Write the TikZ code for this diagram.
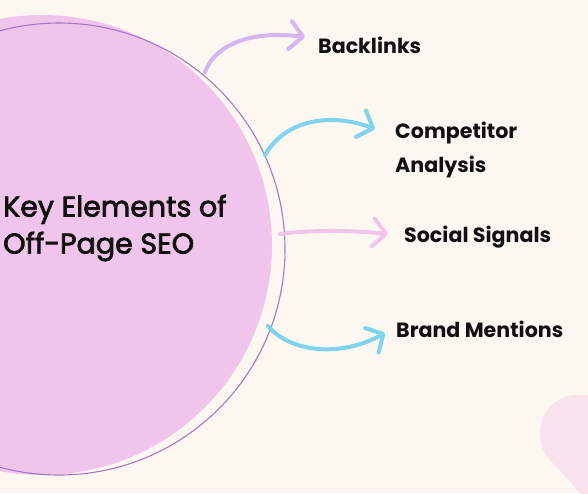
\documentclass[tikz,border=0pt]{standalone}
\usepackage{fontspec}
\setmainfont{Poppins}
\newfontfamily\titlefont{Poppins}[FakeBold=2.6]
\usetikzlibrary{arrows.meta}

\definecolor{paper}{HTML}{FDF7F1}
\definecolor{discpink}{HTML}{F0C5EB}
\definecolor{ringpurple}{HTML}{A677C6}
\definecolor{lavender}{HTML}{D5B5F2}
\definecolor{skyblue}{HTML}{7ED4EE}
\definecolor{softpink}{HTML}{F1C4E9}
\definecolor{blobpink}{HTML}{F8E2EC}
\definecolor{inkblack}{HTML}{111111}

\begin{document}
\begin{tikzpicture}[x=1pt,y=-1pt]

    % Define styles
    \tikzset{
        brush/.style={line width=4pt, line cap=round,
            -{Straight Barb[length=13pt,width=28pt,round]}},
        item label/.style={font=\bfseries\fontsize{20.6}{34}\selectfont,
            text=inkblack, inner sep=0pt, align=left},
        title label/.style={font=\titlefont\fontsize{28.5}{37}\selectfont,
            text=inkblack, inner sep=0pt, align=left}
    }

    % Page and clipping
    \useasboundingbox (0,0) rectangle (588,493);
    \fill[paper] (0,0) rectangle (588,493);
    \clip (0,0) rectangle (588,493);

    % Corner blob (bottom right)
    \fill[blobpink] (592,395) -- (578,395)
        .. controls (556,395) and (540,412) .. (540,433)
        .. controls (540,445) and (544,454) .. (551,461)
        -- (584,497) -- (592,497) -- cycle;

    % Big disc and its outline ring
    \fill[discpink] (42,245) circle[radius=230pt];
    \draw[ringpurple, line width=1.1pt] (59,249) circle[radius=226pt];

    % Title inside the disc
    \node[title label, anchor=west] (title) at (3,228)
        {Key Elements of\\Off-Page SEO};

    % Define coordinates for the arrow ends
    \coordinate (bl-start) at (205,72);
    \coordinate (bl-end)   at (305,37);
    \coordinate (ca-start) at (265,155);
    \coordinate (ca-end)   at (375,129);
    \coordinate (ss-start) at (280,234);
    \coordinate (ss-end)   at (388,234);
    \coordinate (bm-start) at (268,326);
    \coordinate (bm-end)   at (385,333);

    % Labels
    \node[item label, anchor=base west] (backlinks) at (318,53) {Backlinks};
    \node[item label, anchor=west] (competitor) at (395,150) {Competitor\\Analysis};
    \node[item label, anchor=base west] (social) at (404,242) {Social Signals};
    \node[item label, anchor=base west] (brand) at (396,337) {Brand Mentions};

    % Brush arrows
    \draw[brush, lavender] (bl-start) .. controls (215,45) and (250,30) .. (bl-end);
    \draw[brush, skyblue] (ca-start) .. controls (285,120) and (330,112) .. (ca-end);
    \draw[brush, softpink] (ss-start) .. controls (310,230) and (350,230) .. (ss-end);
    \draw[brush, skyblue] (bm-start) .. controls (290,352) and (340,358) .. (bm-end);

\end{tikzpicture}
\end{document}
